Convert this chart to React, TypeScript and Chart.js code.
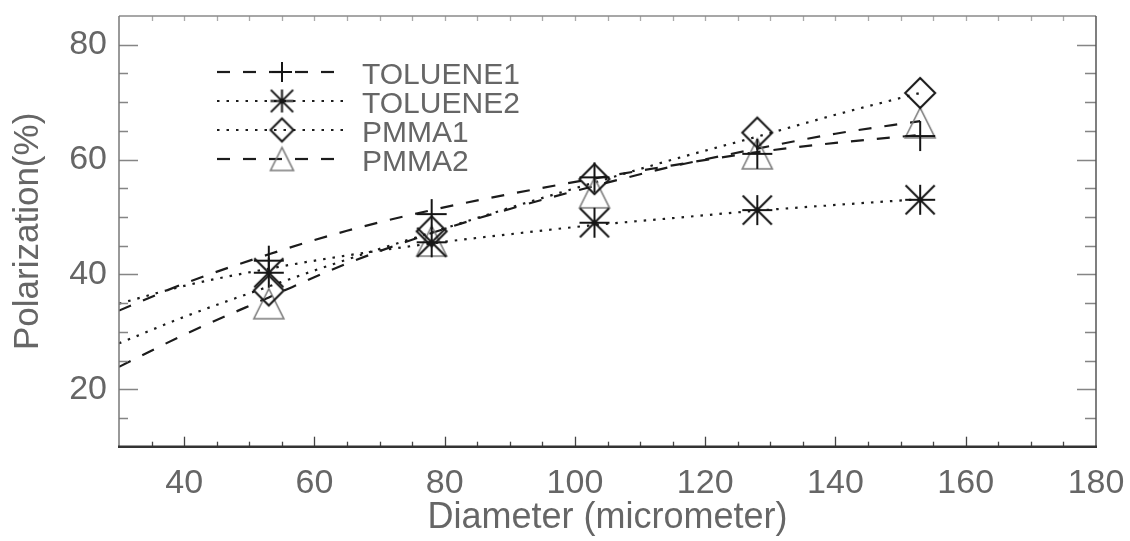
import React, { useEffect, useRef } from 'react';
import { Chart, registerables } from 'chart.js';

Chart.register(...registerables);

// ---------------- data ----------------
const seriesNames = ['TOLUENE1', 'TOLUENE2', 'PMMA1', 'PMMA2'];

const diameters = [53, 78, 103, 128, 153];
const toluene1 = [42.4, 50.5, 56.9, 61.0, 64.1];
const toluene2 = [40.3, 45.6, 49.0, 51.2, 53.0];
const pmma1 = [37.2, 47.5, 56.6, 64.7, 71.6];
const pmma2 = [34.9, 45.8, 54.2, 61.0, 66.4];

const fitDiameters = [30, 40, 53, 65, 78, 90, 103, 115, 128, 140, 153];
const toluene1Fit = [33.7, 38.4, 43.5, 47.6, 51.2, 54.0, 56.7, 59.0, 61.3, 62.9, 64.3];
const toluene2Fit = [34.9, 38.0, 41.0, 43.3, 45.4, 47.0, 48.6, 49.8, 51.1, 52.1, 53.1];
const pmma1Fit = [28.0, 32.6, 37.9, 42.6, 47.3, 51.6, 56.0, 60.0, 64.0, 67.8, 71.6];
const pmma2Fit = [23.9, 29.5, 36.0, 41.9, 47.2, 51.4, 55.4, 58.8, 61.9, 64.5, 66.7];

const xLabelValues = [40, 60, 80, 100, 120, 140, 160, 180];
const yLabelValues = [20, 40, 60, 80];

const xTitle = 'Diameter (micrometer)';
const yTitle = 'Polarization(%)';

// ---------------- styles ----------------
const FONT = "'Liberation Sans', Arial, sans-serif";
const TEXT = '#666666';
const LINE = '#1c1c1c';
const DASHED = [13, 13];
const DOTTED = [2.5, 7];
const seriesDash = [DASHED, DOTTED, DOTTED, DASHED];
const seriesMarker = ['plus', 'asterisk', 'diamond', 'triangle'];

function makeMarker(kind: string, s: number): HTMLCanvasElement {
  const pad = 3;
  const size = Math.ceil(2 * s + 2 * pad);
  const c = document.createElement('canvas');
  c.width = size;
  c.height = size;
  const ctx = c.getContext('2d')!;
  const m = size / 2;
  ctx.lineWidth = kind === 'triangle' ? 1.6 : 2;
  ctx.strokeStyle = kind === 'triangle' ? '#7a7a7a' : '#151515';
  ctx.lineJoin = 'miter';
  ctx.beginPath();
  if (kind === 'plus' || kind === 'asterisk') {
    ctx.moveTo(m - s, m); ctx.lineTo(m + s, m);
    ctx.moveTo(m, m - s); ctx.lineTo(m, m + s);
    if (kind === 'asterisk') {
      const d = s * 0.97;
      ctx.moveTo(m - d, m - d); ctx.lineTo(m + d, m + d);
      ctx.moveTo(m - d, m + d); ctx.lineTo(m + d, m - d);
    }
  } else if (kind === 'diamond') {
    ctx.moveTo(m, m - s); ctx.lineTo(m + s, m); ctx.lineTo(m, m + s); ctx.lineTo(m - s, m);
    ctx.closePath();
  } else {
    ctx.moveTo(m - s, m + s); ctx.lineTo(m, m - s); ctx.lineTo(m + s, m + s);
    ctx.closePath();
  }
  ctx.stroke();
  return c;
}

const frameAndTicks = {
  id: 'frameAndTicks',
  afterDatasetsDraw(chart: any) {
    const { ctx, chartArea: a, scales } = chart;
    const xs = scales.x, ys = scales.y;
    ctx.save();
    ctx.setLineDash([]);
    ys.ticks.forEach((t: any) => {
      const y = Math.round(ys.getPixelForValue(t.value)) + 0.5;
      if (t.value <= ys.min || t.value >= ys.max) return;
      const major = t.value % 20 === 0;
      ctx.strokeStyle = '#858585';
      ctx.lineWidth = 1.5;
      ctx.beginPath();
      ctx.moveTo(a.left, y); ctx.lineTo(a.left + (major ? 19 : 9), y);
      ctx.moveTo(a.right, y); ctx.lineTo(a.right - (major ? 19 : 11), y);
      ctx.stroke();
    });
    xs.ticks.forEach((t: any) => {
      const x = Math.round(xs.getPixelForValue(t.value)) + 0.5;
      if (t.value <= xs.min || t.value >= xs.max) return;
      const major = t.value % 20 === 0;
      ctx.strokeStyle = '#444';
      ctx.lineWidth = 1.3;
      ctx.beginPath();
      ctx.moveTo(x, a.bottom); ctx.lineTo(x, a.bottom - (major ? 10 : 5));
      ctx.stroke();
      ctx.strokeStyle = '#aaa';
      ctx.beginPath();
      ctx.moveTo(x, a.top); ctx.lineTo(x, a.top + 5);
      ctx.stroke();
    });
    ctx.lineWidth = 1.5;
    ctx.strokeStyle = '#8a8a8a';
    ctx.beginPath(); ctx.moveTo(a.left, a.top); ctx.lineTo(a.right, a.top); ctx.stroke();
    ctx.strokeStyle = '#777';
    ctx.beginPath(); ctx.moveTo(a.left, a.top); ctx.lineTo(a.left, a.bottom); ctx.stroke();
    ctx.strokeStyle = '#555';
    ctx.beginPath(); ctx.moveTo(a.right, a.top); ctx.lineTo(a.right, a.bottom); ctx.stroke();
    ctx.lineWidth = 2.5;
    ctx.strokeStyle = '#333';
    ctx.beginPath(); ctx.moveTo(a.left - 1, a.bottom); ctx.lineTo(a.right + 1, a.bottom); ctx.stroke();
    ctx.restore();
  },
};

function makeLegendPlugin(markers: HTMLCanvasElement[]) {
  return {
    id: 'idlLegend',
    afterDatasetsDraw(chart: any) {
      const ctx = chart.ctx;
      const x0 = 217, x1 = 343, mx = 282, tx = 362, y0 = 72, dy = 29;
      seriesNames.forEach((name, i) => {
        const y = y0 + i * dy;
        ctx.save();
        ctx.strokeStyle = LINE;
        ctx.lineWidth = 2.2;
        ctx.lineCap = 'butt';
        ctx.setLineDash(seriesDash[i]);
        ctx.beginPath(); ctx.moveTo(x0, y); ctx.lineTo(x1, y); ctx.stroke();
        ctx.setLineDash([]);
        const img = markers[i];
        ctx.drawImage(img, mx - img.width / 2, y - img.height / 2);
        ctx.fillStyle = TEXT;
        ctx.font = `30px ${FONT}`;
        ctx.textBaseline = 'alphabetic';
        ctx.textAlign = 'left';
        ctx.fillText(name, tx, y + 11.5);
        ctx.restore();
      });
    },
  };
}

function zeroPadding(s: any) {
  s.paddingTop = 0;
  s.paddingBottom = 0;
  s.paddingLeft = 0;
  s.paddingRight = 0;
}

export default function App() {
  const ref = useRef<HTMLCanvasElement>(null);

  useEffect(() => {
    if (!ref.current) return;
    const dataMarkers = seriesMarker.map((k) => makeMarker(k, 15));
    const legendMarkers = seriesMarker.map((k) => makeMarker(k, k === 'plus' ? 10 : 11.5));
    const pointSeries = [toluene1, toluene2, pmma1, pmma2];
    const fitSeries = [toluene1Fit, toluene2Fit, pmma1Fit, pmma2Fit];

    const fitSets = fitSeries.map((vals, i) => ({
      label: seriesNames[i] + ' fit',
      data: fitDiameters.map((d, j) => ({ x: d, y: vals[j] })),
      showLine: true,
      borderColor: LINE,
      borderWidth: 2.2,
      borderDash: seriesDash[i],
      borderCapStyle: 'butt' as const,
      cubicInterpolationMode: 'monotone' as const,
      pointRadius: 0,
      fill: false,
    }));
    const pointSets = pointSeries.map((vals, i) => ({
      label: seriesNames[i],
      data: diameters.map((d, j) => ({ x: d, y: vals[j] })),
      showLine: false,
      pointStyle: dataMarkers[i] as any,
      pointRadius: 15,
      clip: false as any,
    }));

    const chart = new Chart(ref.current, {
      type: 'scatter',
      data: { datasets: [...pointSets, ...fitSets] as any },
      options: {
        animation: false,
        responsive: false,
        devicePixelRatio: 1,
        events: [],
        layout: { padding: { left: 0, top: 15, right: 34, bottom: 0 } },
        plugins: { legend: { display: false }, tooltip: { enabled: false } },
        scales: {
          x: {
            type: 'linear',
            min: 30,
            max: 180,
            grid: { display: false, drawTicks: false },
            border: { display: false },
            ticks: {
              stepSize: 5,
              autoSkip: false,
              maxRotation: 0,
              padding: 17,
              color: TEXT,
              font: { family: FONT, size: 34 },
              callback: (v: any) => (xLabelValues.includes(Number(v)) ? String(v) : ''),
            },
            title: {
              display: true,
              text: xTitle,
              color: TEXT,
              font: { family: FONT, size: 36 },
              padding: { top: 0, bottom: 1 },
            },
            afterFit: (s: any) => { s.height = 541 - 446.7; zeroPadding(s); },
          },
          y: {
            type: 'linear',
            min: 10,
            max: 85,
            grid: { display: false, drawTicks: false },
            border: { display: false },
            ticks: {
              stepSize: 5,
              autoSkip: false,
              padding: 12,
              color: TEXT,
              font: { family: FONT, size: 34 },
              callback: (v: any) => (yLabelValues.includes(Number(v)) ? String(v) : ''),
            },
            title: {
              display: true,
              text: yTitle,
              color: TEXT,
              font: { family: FONT, size: 35 },
              padding: { top: 7, bottom: 0 },
            },
            afterFit: (s: any) => { s.width = 119; zeroPadding(s); },
          },
        },
      },
      plugins: [frameAndTicks, makeLegendPlugin(legendMarkers)],
    });
    return () => chart.destroy();
  }, []);

  return (
    <div style={{ position: 'absolute', left: 0, top: 0, width: 1130, height: 541, background: '#fff' }}>
      <canvas ref={ref} width={1130} height={541} style={{ width: 1130, height: 541, display: 'block' }} />
    </div>
  );
}
